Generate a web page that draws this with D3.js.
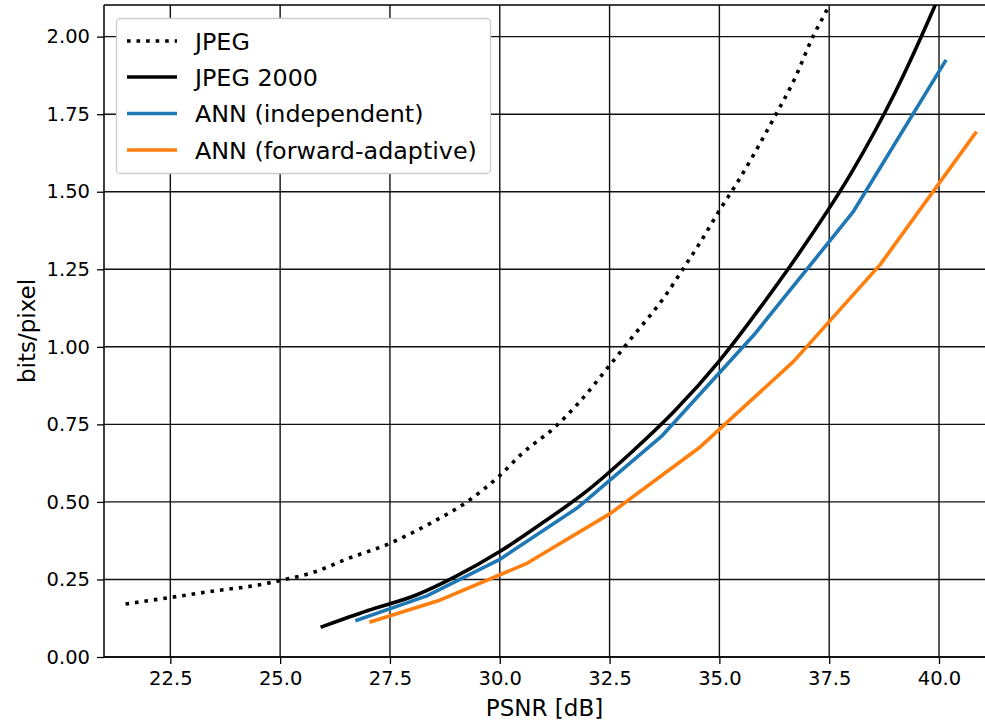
<!DOCTYPE html>
<html>
<head>
<meta charset="utf-8">
<script src="https://cdn.jsdelivr.net/npm/d3@7"></script>
<style>
  html, body { margin: 0; padding: 0; background: #fff; }
  svg text { font-family: "DejaVu Sans", sans-serif; fill: #000; }
</style>
</head>
<body>
<svg id="chart" width="985" height="721"></svg>
<script>
// ---- data ----
const seriesNames = ["JPEG", "JPEG 2000", "ANN (independent)", "ANN (forward-adaptive)"];

const jpegPSNR = [21.48, 22.46, 23.5, 24.5, 25.05, 25.76, 26.5, 27.51, 28.42, 29.26, 30.0, 30.5, 31.27, 31.8, 32.5, 32.97, 33.73, 34.26, 34.53, 35.02, 35.4, 36.24, 36.7, 37.15, 37.41, 37.7];
const jpegBpp  = [0.171, 0.191, 0.213, 0.232, 0.248, 0.273, 0.315, 0.367, 0.431, 0.501, 0.585, 0.655, 0.743, 0.82, 0.94, 1.023, 1.157, 1.27, 1.329, 1.444, 1.528, 1.737, 1.86, 2.006, 2.076, 2.16];

const j2kPSNR = [25.96, 27.0, 28.1, 29.0, 30.0, 31.0, 32.0, 33.0, 34.0, 35.0, 36.0, 37.0, 38.0, 39.0, 40.0, 40.3];
const j2kBpp  = [0.098, 0.150, 0.200, 0.260, 0.340, 0.435, 0.537, 0.660, 0.796, 0.955, 1.140, 1.340, 1.560, 1.820, 2.130, 2.23];

const annIndPSNR = [26.75, 28.34, 29.98, 31.76, 33.70, 35.82, 38.04, 40.14];
const annIndBpp  = [0.119, 0.197, 0.313, 0.480, 0.714, 1.044, 1.434, 1.920];

const annFwdPSNR = [27.07, 28.65, 30.62, 32.52, 34.57, 36.69, 38.66, 40.83];
const annFwdBpp  = [0.114, 0.184, 0.302, 0.463, 0.678, 0.953, 1.265, 1.689];

const xTicks = [22.5, 25.0, 27.5, 30.0, 32.5, 35.0, 37.5, 40.0];
const yTicks = [0.00, 0.25, 0.50, 0.75, 1.00, 1.25, 1.50, 1.75, 2.00];

const xLabel = "PSNR [dB]";
const yLabel = "bits/pixel";

// ---- layout ----
const L = 104, R = 985, T = 5, B = 657;
const svg = d3.select("#chart");

const x = d3.scaleLinear().domain([20.99, 41.047]).range([L, R]);
const y = d3.scaleLinear().domain([0, 2.102]).range([B, T]);

// clip
svg.append("defs").append("clipPath").attr("id", "plotclip")
  .append("rect").attr("x", L).attr("y", T).attr("width", R - L).attr("height", B - T);

// grid
const grid = svg.append("g");
grid.selectAll(".gx").data(xTicks).enter().append("line")
  .attr("x1", d => x(d)).attr("x2", d => x(d)).attr("y1", T).attr("y2", B)
  .attr("stroke", "#111").attr("stroke-width", 1.4);
grid.selectAll(".gy").data(yTicks).enter().append("line")
  .attr("x1", L).attr("x2", R).attr("y1", d => y(d)).attr("y2", d => y(d))
  .attr("stroke", "#111").attr("stroke-width", 1.4);

// axes
const xAxis = d3.axisBottom(x).tickValues(xTicks).tickFormat(d3.format(".1f")).tickSize(7).tickPadding(7);
const yAxis = d3.axisLeft(y).tickValues(yTicks).tickFormat(d3.format(".2f")).tickSize(7).tickPadding(7);

const gx = svg.append("g").attr("transform", `translate(0,${B})`).call(xAxis);
const gy = svg.append("g").attr("transform", `translate(${L},0)`).call(yAxis);
[gx, gy].forEach(g => {
  g.select(".domain").remove();
  g.selectAll(".tick line").attr("stroke", "#000").attr("stroke-width", 1.3);
  g.selectAll(".tick text").style("font-size", "19.5px").style("font-family", "DejaVu Sans");
});

// spines
svg.append("line").attr("x1", L).attr("x2", L).attr("y1", T).attr("y2", B).attr("stroke", "#000").attr("stroke-width", 1.5);
svg.append("line").attr("x1", L).attr("x2", R).attr("y1", B).attr("y2", B).attr("stroke", "#000").attr("stroke-width", 1.5);
svg.append("line").attr("x1", L).attr("x2", R).attr("y1", T).attr("y2", T).attr("stroke", "#000").attr("stroke-width", 1.5);

// series
const lw = 3.6;
const series = [
  { name: seriesNames[0], xs: jpegPSNR, ys: jpegBpp, color: "#000000", dash: `${lw},${lw * 1.65}`, curve: d3.curveMonotoneX },
  { name: seriesNames[1], xs: j2kPSNR, ys: j2kBpp, color: "#000000", dash: null, curve: d3.curveMonotoneX },
  { name: seriesNames[2], xs: annIndPSNR, ys: annIndBpp, color: "#1f77b4", dash: null, curve: d3.curveLinear },
  { name: seriesNames[3], xs: annFwdPSNR, ys: annFwdBpp, color: "#ff7f0e", dash: null, curve: d3.curveLinear },
];

const plot = svg.append("g").attr("clip-path", "url(#plotclip)");
series.forEach(s => {
  const line = d3.line().x(d => x(d[0])).y(d => y(d[1])).curve(s.curve);
  const pts = s.xs.map((v, i) => [v, s.ys[i]]);
  const p = plot.append("path").datum(pts).attr("d", line)
    .attr("fill", "none").attr("stroke", s.color).attr("stroke-width", lw)
    .attr("stroke-linejoin", "round");
  if (s.dash) p.attr("stroke-dasharray", s.dash).attr("stroke-linecap", "butt");
  else p.attr("stroke-linecap", "square");
});

// labels
svg.append("text").attr("x", (L + R) / 2).attr("y", 716).attr("text-anchor", "middle")
  .style("font-size", "23px").text(xLabel);
svg.append("text").attr("transform", `translate(35,${(T + B) / 2}) rotate(-90)`).attr("text-anchor", "middle")
  .style("font-size", "23px").text(yLabel);

// legend
const lg = svg.append("g");
lg.append("rect").attr("x", 116.5).attr("y", 18.5).attr("width", 374).attr("height", 155)
  .attr("rx", 4).attr("ry", 4).attr("fill", "#fff").attr("fill-opacity", 1)
  .attr("stroke", "#cccccc").attr("stroke-width", 1.3);
const rowY = [41, 77, 113.5, 150];
series.forEach((s, i) => {
  const ln = lg.append("line").attr("x1", 127).attr("x2", 177).attr("y1", rowY[i]).attr("y2", rowY[i])
    .attr("stroke", s.color).attr("stroke-width", lw);
  if (s.dash) ln.attr("stroke-dasharray", s.dash);
  lg.append("text").attr("x", 195).attr("y", rowY[i]).attr("dy", "0.36em")
    .style("font-size", "23.8px").text(s.name);
});
</script>
</body>
</html>
